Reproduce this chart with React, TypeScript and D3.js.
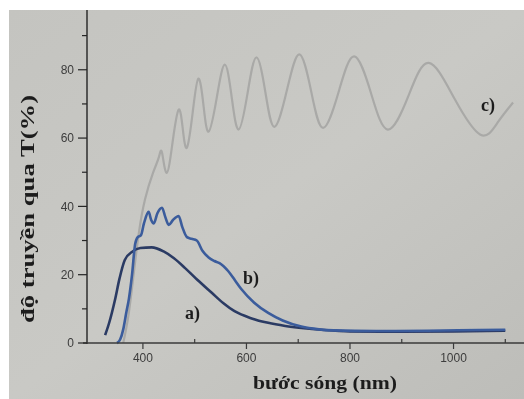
import React from 'react';
import * as d3 from 'd3';

const W = 524;
const H = 399;

// Axis ticks
const yTicks = [0, 20, 40, 60, 80];
const yMinorTicks = [10, 30, 50, 70, 90];
const xTicks = [400, 600, 800, 1000];
const xMinorTicks = [500, 700, 900, 1100];

// Curve a)
const aNm = [327, 335, 346, 355, 365, 380, 395, 417, 440, 460, 481, 505, 533, 555, 577, 610, 642, 675, 706, 750, 800, 900, 1000, 1100];
const aT = [2.3, 6, 12.6, 19, 24.3, 26.8, 27.8, 28, 26.8, 24.8, 22, 18.5, 14.7, 11.7, 9.3, 7.2, 5.9, 5, 4.4, 3.8, 3.4, 3.3, 3.4, 3.6];

// Curve b)
const bNm = [350, 356, 362, 368, 373, 379, 385, 390, 396, 402, 411, 416, 421, 428, 437, 443, 450, 458, 469, 476, 485, 494, 504, 515, 527, 538, 548, 565, 578, 590, 615, 642, 670, 706, 740, 769, 850, 950, 1050, 1100];
const bT = [0, 1, 4, 9, 13, 20, 29, 31, 31.5, 35, 38.4, 36, 35, 38, 39.6, 37, 34.6, 36, 37.2, 34, 31, 30.5, 30, 27, 25, 24, 23.4, 21, 18.3, 15.8, 11.8, 8.8, 6.6, 4.8, 4, 3.7, 3.5, 3.6, 3.8, 3.9];

// Curve c)
const cNm = [362, 372, 382, 392, 404, 420, 431, 437, 446, 457.5, 469, 477, 485, 496, 507, 517, 527, 542.5, 558, 571.5, 585, 602, 619, 636.5, 654, 678, 702, 725, 748, 778, 808, 840.5, 873, 912.5, 952, 1002, 1052, 1085, 1115];
const cT = [0, 8, 20, 32, 42, 50, 54.5, 55.7, 49.8, 59, 68.3, 62.7, 57.2, 67.3, 77.4, 69.6, 61.9, 71.7, 81.5, 72, 62.5, 73, 83.6, 73.5, 63.3, 73.9, 84.5, 73.7, 63, 73.5, 83.9, 73.2, 62.5, 72.2, 82, 71.5, 61, 64.5, 70.4];

const zip = (xs: number[], ys: number[]): [number, number][] => xs.map((v, i) => [v, ys[i]]);

export default function App() {
  const x = d3.scaleLinear().domain([292, 1140]).range([87, 526]);
  const y = d3.scaleLinear().domain([0, 97.5]).range([343, 10]);

  const smoothLine = d3
    .line<[number, number]>()
    .x((d) => x(d[0]))
    .y((d) => y(d[1]))
    .curve(d3.curveMonotoneX);

  const waveLine = d3
    .line<[number, number]>()
    .x((d) => x(d[0]))
    .y((d) => y(d[1]))
    .curve(d3.curveNatural);

  const x0 = x(292);
  const y0 = y(0);
  const tickFont = '"Liberation Sans", Arial, sans-serif';
  const titleFont = '"Liberation Serif", "Times New Roman", serif';

  return (
    <svg
      width={W}
      height={H}
      viewBox={`0 0 ${W} ${H}`}
      style={{ position: 'absolute', left: 0, top: 0, display: 'block' }}
    >
      <defs>
        <linearGradient id="paper" x1="0" y1="0" x2="1" y2="1">
          <stop offset="0" stopColor="#c4c4c0" />
          <stop offset="0.5" stopColor="#c9c9c5" />
          <stop offset="1" stopColor="#bdbdb9" />
        </linearGradient>
        <filter id="soft" x="-5%" y="-5%" width="110%" height="110%">
          <feGaussianBlur stdDeviation="0.55" />
        </filter>
      </defs>
      <rect x={0} y={0} width={W} height={H} fill="#ffffff" />
      <rect x={9} y={10} width={W - 9} height={H - 10} fill="url(#paper)" />

      <g filter="url(#soft)">
        {/* curves */}
        <path d={waveLine(zip(cNm, cT)) || ''} fill="none" stroke="#a9a9a7" strokeWidth={2.2} />
        <path d={smoothLine(zip(aNm, aT)) || ''} fill="none" stroke="#2c3a64" strokeWidth={2.6} />
        <path d={smoothLine(zip(bNm, bT)) || ''} fill="none" stroke="#3b5c9c" strokeWidth={2.6} />

        {/* axes */}
        <line x1={x0} y1={10} x2={x0} y2={y0 + 1} stroke="#262626" strokeWidth={1.4} />
        <line x1={x0 - 4} y1={y0} x2={W} y2={y0} stroke="#3a3a3a" strokeWidth={1.3} />

        {yTicks.map((t) => (
          <g key={`yt${t}`}>
            <line x1={x0 - 9} x2={x0} y1={y(t)} y2={y(t)} stroke="#262626" strokeWidth={1.2} />
            <text
              x={x0 - 13}
              y={y(t)}
              dy="0.35em"
              textAnchor="end"
              fontFamily={tickFont}
              fontSize={12}
              fill="#3c3c3c"
            >
              {t}
            </text>
          </g>
        ))}
        {yMinorTicks.map((t) => (
          <line key={`ym${t}`} x1={x0 - 5} x2={x0} y1={y(t)} y2={y(t)} stroke="#262626" strokeWidth={1.2} />
        ))}

        {xTicks.map((t) => (
          <g key={`xt${t}`}>
            <line x1={x(t)} x2={x(t)} y1={y0} y2={y0 + 6} stroke="#3a3a3a" strokeWidth={1.2} />
            <text
              x={x(t)}
              y={y0 + 19}
              textAnchor="middle"
              fontFamily={tickFont}
              fontSize={12}
              fill="#3c3c3c"
            >
              {t}
            </text>
          </g>
        ))}
        {xMinorTicks.map((t) => (
          <line key={`xm${t}`} x1={x(t)} x2={x(t)} y1={y0 - 4} y2={y0} stroke="#3a3a3a" strokeWidth={1.2} />
        ))}

        {/* curve labels */}
        <text x={185} y={319} fontFamily={titleFont} fontWeight="bold" fontSize={18} fill="#1e1e1e">a)</text>
        <text x={243} y={284} fontFamily={titleFont} fontWeight="bold" fontSize={18} fill="#1e1e1e">b)</text>
        <text x={481} y={111} fontFamily={titleFont} fontWeight="bold" fontSize={18} fill="#1e1e1e">c)</text>

        {/* axis titles */}
        <text
          x={253}
          y={389}
          textLength={144}
          lengthAdjust="spacingAndGlyphs"
          fontFamily={titleFont}
          fontWeight="bold"
          fontSize={19}
          fill="#1e1e1e"
        >
          bước sóng (nm)
        </text>
        <text
          transform="translate(34,323) rotate(-90)"
          x={0}
          y={0}
          textLength={228}
          lengthAdjust="spacingAndGlyphs"
          fontFamily={titleFont}
          fontWeight="bold"
          fontSize={19}
          fill="#1e1e1e"
        >
          độ truyền qua T(%)
        </text>
      </g>
    </svg>
  );
}
